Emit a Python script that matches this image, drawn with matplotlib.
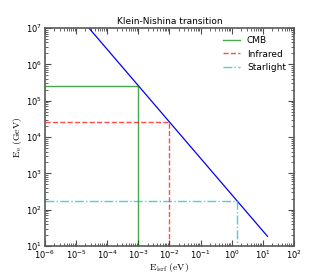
import matplotlib
matplotlib.use('Agg')
import matplotlib.pyplot as plt

plt.rcParams['mathtext.fontset'] = 'cm'
plt.rcParams['font.family'] = ['DejaVu Sans']

# Klein-Nishina line endpoints (E_isrf in eV, E_e in GeV)
line_e_isrf = [2.6e-5, 14.0]
line_e_e = [1.0e7, 18.6]

# photon fields: name, E_isrf (eV), transition E_e (GeV)
field_names = ['CMB', 'Infrared', 'Starlight']
field_e_isrf = [1.0e-3, 1.0e-2, 1.5]
field_e_e = [2.6e5, 2.6e4, 174.0]
field_colors = ['g', 'r', 'c']
field_styles = ['-', '--', '-.']

xlim = (1e-6, 1e2)
ylim = (1e1, 1e7)

fig = plt.figure(figsize=(3.2, 2.8), dpi=100)
ax = fig.add_axes([0.14, 0.121, 0.779, 0.779])

ax.plot(line_e_isrf, line_e_e, color='b', lw=0.9)

for name, ex, ee, c, ls in zip(field_names, field_e_isrf, field_e_e,
                               field_colors, field_styles):
    ax.plot([xlim[0], ex, ex], [ee, ee, ylim[0]], color=c, ls=ls,
            lw=1.0, alpha=0.7, label=name)

ax.set_xscale('log')
ax.set_yscale('log')
ax.set_xlim(*xlim)
ax.set_ylim(*ylim)

ax.tick_params(which='both', direction='in', top=True, right=True,
               labelsize=6, color='0.3', pad=2)
ax.tick_params(which='major', length=4)
ax.tick_params(which='minor', length=2)
for s in ax.spines.values():
    s.set_color('0.35')
    s.set_linewidth(1.2)

ax.set_xlabel(r'$\mathrm{E_{isrf}\ (eV)}$', fontsize=7, labelpad=0)
ax.set_ylabel(r'$\mathrm{E_{e}\ (GeV)}$', fontsize=7, labelpad=1)
ax.set_title('Klein-Nishina transition', fontsize=6.5, pad=3)

ax.legend(loc='upper right', frameon=False, fontsize=6.5, handlelength=1.8,
          labelspacing=0.5)

plt.savefig('out.png', dpi=100)
